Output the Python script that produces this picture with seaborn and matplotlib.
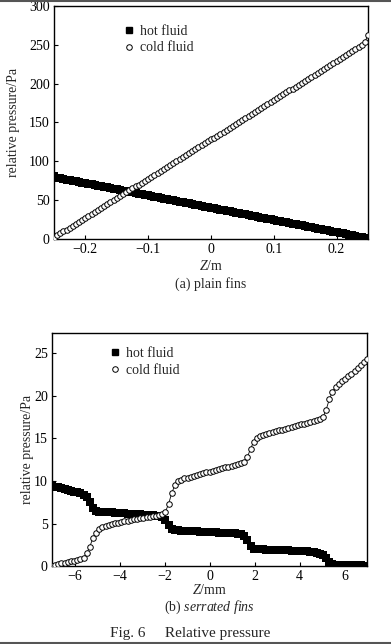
import numpy as np
import pandas as pd
import seaborn as sns
import matplotlib.pyplot as plt
from matplotlib.lines import Line2D

# (a) plain fins, Z in m (101 samples from -0.25 to 0.25)
plain_hot = [
    80.6, 79.0, 78.0, 77.2, 76.4, 75.6, 74.8, 74.0, 73.2, 72.4,
    71.6, 70.8, 70.1, 69.3, 68.5, 67.7, 67.0, 66.2, 65.4, 64.6,
    63.8, 63.0, 62.2, 61.4, 60.6, 59.8, 59.0, 58.3, 57.5, 56.7,
    55.9, 55.1, 54.4, 53.6, 52.8, 52.0, 51.2, 50.4, 49.6, 48.8,
    48.0, 47.2, 46.5, 45.7, 44.9, 44.1, 43.3, 42.5, 41.7, 40.9,
    40.1, 39.4, 38.6, 37.8, 37.0, 36.2, 35.4, 34.6, 33.8, 33.0,
    32.3, 31.5, 30.7, 29.9, 29.1, 28.3, 27.5, 26.8, 26.0, 25.2,
    24.4, 23.6, 22.8, 22.0, 21.2, 20.4, 19.7, 18.9, 18.1, 17.3,
    16.5, 15.7, 14.9, 14.1, 13.4, 12.6, 11.8, 11.0, 10.2, 9.4,
    8.6, 7.8, 7.0, 6.3, 5.5, 4.7, 3.9, 3.1, 2.4, 1.6, 0.5,
]
plain_cold = [
    1.0, 4.5, 7.0, 9.6, 12.1, 14.6, 17.1, 19.6, 22.2, 24.7,
    27.2, 29.7, 32.2, 34.8, 37.3, 39.8, 42.3, 44.8, 47.4, 49.9,
    52.4, 54.9, 57.4, 60.0, 62.5, 65.0, 67.5, 70.0, 72.6, 75.1,
    77.6, 80.1, 82.6, 85.2, 87.7, 90.2, 92.7, 95.2, 97.8, 100.3,
    102.8, 105.3, 107.8, 110.4, 112.9, 115.4, 117.9, 120.4, 123.0, 125.5,
    128.0, 130.5, 133.0, 135.6, 138.1, 140.6, 143.1, 145.6, 148.2, 150.7,
    153.2, 155.7, 158.2, 160.8, 163.3, 165.8, 168.3, 170.8, 173.4, 175.9,
    178.4, 180.9, 183.4, 186.0, 188.5, 191.0, 193.5, 196.0, 198.6, 201.1,
    203.6, 206.1, 208.6, 211.2, 213.7, 216.2, 218.7, 221.2, 223.8, 226.3,
    228.8, 231.3, 233.8, 236.4, 238.9, 241.4, 243.9, 246.4, 249.5, 253.5, 262.0,
]

# (b) serrated fins, Z in mm (101 samples from -7 to 7)
serrated_hot = [
    9.5, 9.35, 9.25, 9.15, 9.05, 8.95, 8.85, 8.75, 8.65, 8.55,
    8.4, 8.1, 7.5, 6.8, 6.5, 6.4, 6.37, 6.35, 6.32, 6.3,
    6.27, 6.25, 6.22, 6.2, 6.17, 6.15, 6.12, 6.1, 6.07, 6.05,
    6.02, 6.0, 5.97, 5.93, 5.88, 5.75, 5.4, 4.8, 4.35, 4.22,
    4.2, 4.18, 4.16, 4.14, 4.12, 4.1, 4.08, 4.06, 4.04, 4.02,
    4.0, 3.98, 3.96, 3.94, 3.92, 3.9, 3.88, 3.86, 3.83, 3.8,
    3.72, 3.55, 3.1, 2.4, 2.05, 1.98, 1.97, 1.95, 1.94, 1.93,
    1.92, 1.9, 1.89, 1.88, 1.86, 1.85, 1.83, 1.82, 1.8, 1.78,
    1.76, 1.73, 1.7, 1.65, 1.58, 1.45, 1.25, 0.95, 0.45, 0.2,
    0.15, 0.14, 0.13, 0.12, 0.11, 0.1, 0.09, 0.08, 0.07, 0.06, 0.05,
]
serrated_cold = [
    0.0, 0.15, 0.25, 0.33, 0.4, 0.48, 0.55, 0.62, 0.7, 0.8,
    0.95, 1.5, 2.3, 3.3, 3.9, 4.3, 4.55, 4.7, 4.85, 4.95,
    5.05, 5.12, 5.2, 5.27, 5.35, 5.42, 5.5, 5.56, 5.62, 5.68,
    5.74, 5.8, 5.86, 5.92, 5.98, 6.1, 6.4, 7.3, 8.6, 9.5,
    9.95, 10.15, 10.3, 10.4, 10.5, 10.6, 10.7, 10.8, 10.9, 11.0,
    11.1, 11.2, 11.3, 11.4, 11.5, 11.6, 11.7, 11.8, 11.9, 12.0,
    12.1, 12.25, 12.8, 13.8, 14.6, 15.05, 15.3, 15.45, 15.55, 15.65,
    15.75, 15.85, 15.95, 16.05, 16.15, 16.25, 16.35, 16.45, 16.55, 16.65,
    16.75, 16.85, 16.95, 17.05, 17.15, 17.3, 17.5, 18.4, 19.6, 20.5,
    21.1, 21.45, 21.7, 22.0, 22.3, 22.6, 22.9, 23.25, 23.6, 23.95, 24.3,
]

plain_xticks = [-0.2, -0.1, 0, 0.1, 0.2]
plain_xticklabels = ["\u22120.2", "\u22120.1", "0", "0.1", "0.2"]
serrated_xticks = [-6, -4, -2, 0, 2, 4, 6]

sns.set_style("white")
plt.rcParams.update({
    "font.family": ["Liberation Serif", "DejaVu Serif"],
    "font.size": 10,
    "mathtext.fontset": "custom",
    "mathtext.rm": "Liberation Serif",
    "mathtext.it": "Liberation Serif:italic",
    "axes.linewidth": 1.0,
    "axes.edgecolor": "black",
})

df_a = pd.DataFrame({
    "z": np.linspace(-0.25, 0.25, len(plain_hot)),
    "hot": plain_hot,
    "cold": plain_cold,
})
df_b = pd.DataFrame({
    "z": np.linspace(-7, 7, len(serrated_hot)),
    "hot": serrated_hot,
    "cold": serrated_cold,
})

fig = plt.figure(figsize=(3.91, 6.44), dpi=100)
ax1 = fig.add_axes([0.138, 0.629, 0.803, 0.362])
ax2 = fig.add_axes([0.133, 0.121, 0.806, 0.362])


def draw(ax, df):
    sns.lineplot(data=df, x="z", y="cold", ax=ax, color="black", lw=0.6,
                 marker="o", markersize=4.0, markerfacecolor="white",
                 markeredgecolor="black", markeredgewidth=0.7, zorder=3)
    sns.scatterplot(data=df, x="z", y="hot", ax=ax, color="black",
                    marker="s", s=30, linewidth=0, zorder=2)
    for s in ax.spines.values():
        s.set_visible(True)
        s.set_color("black")
    ax.tick_params(direction="in", length=3, width=0.8, colors="black",
                   labelsize=10, pad=3, bottom=True, left=True)
    handles = [
        Line2D([], [], marker="s", ls="", color="black", markersize=4),
        Line2D([], [], marker="o", ls="", markerfacecolor="white",
               markeredgecolor="black", markersize=4, markeredgewidth=0.7),
    ]
    return handles


h = draw(ax1, df_a)
ax1.set_xlim(-0.25, 0.25)
ax1.set_ylim(0, 300)
ax1.set_xticks(plain_xticks)
ax1.set_xticklabels(plain_xticklabels)
ax1.set_yticks(range(0, 301, 50))
ax1.set_xlabel("")
ax1.set_ylabel("relative pressure/Pa", fontsize=10)
ax1.yaxis.set_label_coords(-0.108, 0.5)
ax1.text(0.5, -0.116, r"$\it{Z}$/m", transform=ax1.transAxes,
         ha="center", va="center", fontsize=10)
ax1.text(0.5, -0.193, "(a) plain fins", transform=ax1.transAxes,
         ha="center", va="center", fontsize=10)
ax1.legend(h, ["hot fluid", "cold fluid"], loc="upper left",
           bbox_to_anchor=(0.226, 0.918), frameon=False, borderpad=0,
           handlelength=0.6, handletextpad=0.5, labelspacing=0.25,
           fontsize=10, borderaxespad=0)

h = draw(ax2, df_b)
ax2.set_xlim(-7, 7)
ax2.set_ylim(0, 27.4)
ax2.set_xticks(serrated_xticks)
ax2.set_yticks(range(0, 26, 5))
ax2.set_xlabel("")
ax2.set_ylabel("relative pressure/Pa", fontsize=10)
ax2.yaxis.set_label_coords(-0.058, 0.5)
ax2.text(0.5, -0.103, r"$\it{Z}$/mm", transform=ax2.transAxes,
         ha="center", va="center", fontsize=10)
ax2.text(0.5, -0.176, r"(b) $\it{serrated\ fins}$", transform=ax2.transAxes,
         ha="center", va="center", fontsize=10)
ax2.legend(h, ["hot fluid", "cold fluid"], loc="upper left",
           bbox_to_anchor=(0.187, 0.94), frameon=False, borderpad=0,
           handlelength=0.6, handletextpad=0.5, labelspacing=0.3,
           fontsize=10, borderaxespad=0)

fig.text(0.486, 7 / 644, "Fig. 6     Relative pressure",
         ha="center", va="baseline", fontsize=11)

# scan border lines at top and bottom
fig.add_artist(Line2D([0, 1], [0.999, 0.999], color="#555555", lw=1.5,
                      transform=fig.transFigure))
fig.add_artist(Line2D([0, 1], [0.001, 0.001], color="#555555", lw=1.5,
                      transform=fig.transFigure))

fig.savefig("out.png", dpi=100)
